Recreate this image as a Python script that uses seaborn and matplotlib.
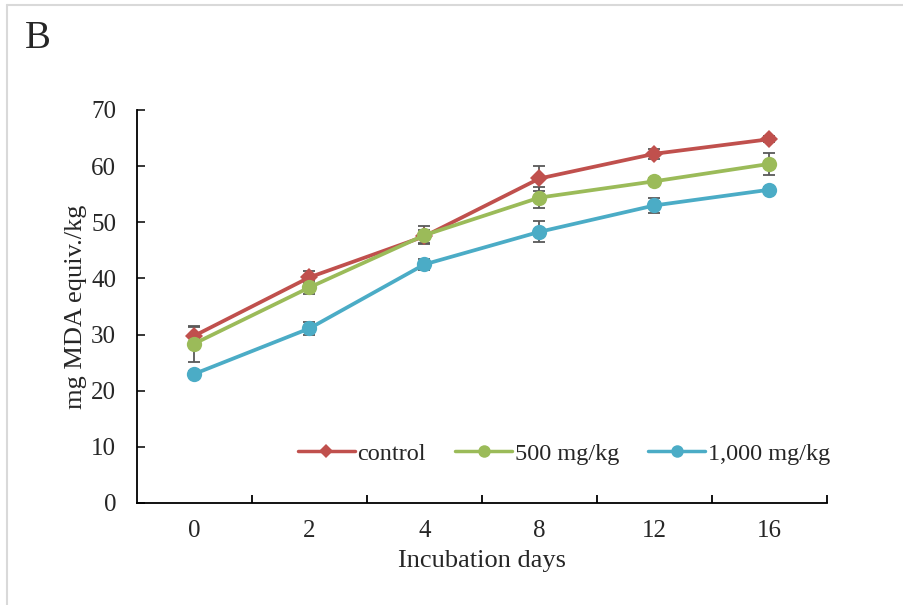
import matplotlib
matplotlib.use("Agg")
import matplotlib.pyplot as plt
import seaborn as sns
import pandas as pd
import numpy as np
from matplotlib.lines import Line2D

days = ["0", "2", "4", "8", "12", "16"]
groups = ["control", "500 mg/kg", "1,000 mg/kg"]
control = [29.8, 40.2, 47.5, 57.8, 62.2, 64.8]
control_err = [1.5, 1.1, 1.2, 2.3, 0.9, 0.5]
mg500 = [28.4, 38.4, 47.7, 54.4, 57.3, 60.4]
mg500_err = [3.2, 1.2, 1.6, 1.9, 0.5, 1.9]
mg1000 = [23.0, 31.1, 42.5, 48.3, 53.0, 55.8]
mg1000_err = [0.5, 1.2, 1.0, 1.9, 1.4, 0.5]

colors = {"control": "#C0504D", "500 mg/kg": "#9BBB59", "1,000 mg/kg": "#4BACC6"}
markers = {"control": "D", "500 mg/kg": "o", "1,000 mg/kg": "o"}

series = {"control": (control, control_err),
          "500 mg/kg": (mg500, mg500_err),
          "1,000 mg/kg": (mg1000, mg1000_err)}

rows = []
for g in groups:
    vals, errs = series[g]
    for i, d in enumerate(days):
        rows.append({"pos": i, "day": d, "value": vals[i], "err": errs[i], "group": g})
df = pd.DataFrame(rows)

sns.set_style("ticks")
plt.rcParams["font.family"] = ["Liberation Serif", "DejaVu Serif"]

fig = plt.figure(figsize=(9.04, 6.05), dpi=100)
ax = fig.add_axes([0.1515, 0.1686, 0.9148 - 0.1515, 0.8182 - 0.1686])

sns.lineplot(data=df, x="pos", y="value", hue="group", style="group",
             hue_order=groups, style_order=groups, palette=colors,
             markers=markers, dashes=False, linewidth=2.7, markeredgewidth=0,
             ax=ax, legend=False, zorder=2)

for line, g in zip(list(ax.lines), groups):
    line.set_markersize(9 if g == "control" else 11)

for g in groups:
    sub = df[df.group == g]
    ax.errorbar(sub["pos"], sub["value"], yerr=sub["err"], fmt="none",
                ecolor="#595959", elinewidth=1.3, capsize=4.5, capthick=1.3, zorder=1.5)

ax.set_xlim(-0.5, 5.5)
ax.set_ylim(0, 70)
ax.set_yticks(np.arange(0, 71, 10))
ax.set_xticks(range(len(days)))
ax.set_xticklabels(days)
ax.set_xticks(np.arange(0.5, len(days), 1.0), minor=True)
ax.tick_params(axis="x", which="major", length=0, pad=12, labelsize=18)
ax.tick_params(axis="x", which="minor", direction="in", length=6, width=1.3, color="black")
ax.tick_params(axis="y", direction="in", length=6, width=1.3, labelsize=18, pad=15)
for s in ["top", "right"]:
    ax.spines[s].set_visible(False)
for s in ["left", "bottom"]:
    ax.spines[s].set_linewidth(1.3)
    ax.spines[s].set_color("black")

ax.set_xlabel("Incubation days", fontsize=19, labelpad=6)
ax.set_ylabel("mg MDA equiv./kg", fontsize=19, labelpad=3)

handles = [Line2D([0], [0], color=colors[g], marker=markers[g], lw=2.5,
                  markersize=7.5 if g == "control" else 9, markeredgewidth=0) for g in groups]
ax.legend(handles, groups, loc="center right", bbox_to_anchor=(1.029, 0.125), ncol=3,
          frameon=False, fontsize=17.5, handlelength=2.35, handletextpad=0.1,
          columnspacing=1.2, borderpad=0.2)

fig.text(25 / 904, 1 - 38 / 605, "B", fontsize=28, ha="left", va="center")

fig.add_artist(Line2D([7 / 904, 7 / 904], [0, 1 - 5 / 605], transform=fig.transFigure,
                      color="#d9d9d9", lw=1.5))
fig.add_artist(Line2D([7 / 904, 1], [1 - 5 / 605, 1 - 5 / 605], transform=fig.transFigure,
                      color="#d9d9d9", lw=1.5))

fig.savefig("out.png", dpi=100, facecolor="white")
